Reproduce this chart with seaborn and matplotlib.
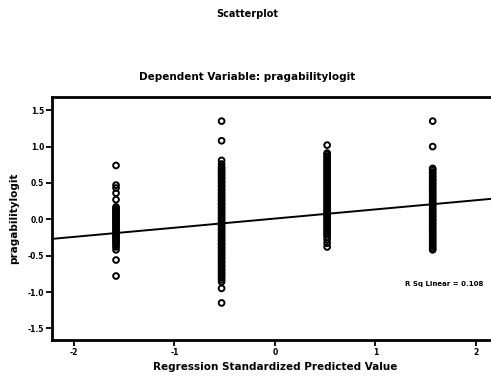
import matplotlib
matplotlib.use("Agg")
import matplotlib.pyplot as plt
import seaborn as sns
import pandas as pd

# ---- data ----
col_x = [-1.58, -0.53, 0.52, 1.57]

col1_y = [0.74, 0.47, 0.43, 0.36, 0.27,
          0.17, 0.15, 0.13, 0.11, 0.09, 0.07, 0.05, 0.03, 0.01, -0.01, -0.03,
          -0.05, -0.07, -0.09, -0.11, -0.13, -0.15, -0.17, -0.19, -0.21, -0.23,
          -0.25, -0.27, -0.29, -0.31, -0.33, -0.36, -0.38, -0.42, -0.56, -0.78]

col2_y = [1.35, 1.08, 0.81, 0.76,
          0.72, 0.70, 0.67, 0.65, 0.62, 0.60, 0.57, 0.55, 0.52, 0.50, 0.47,
          0.45, 0.42, 0.40, 0.37, 0.35, 0.32, 0.30, 0.27, 0.25, 0.22, 0.20,
          0.17, 0.15, 0.12, 0.10, 0.07, 0.05, 0.02, 0.00, -0.03, -0.05, -0.08,
          -0.10, -0.13, -0.15, -0.18, -0.20, -0.23, -0.25, -0.28, -0.30, -0.33,
          -0.35, -0.38, -0.40, -0.43, -0.45, -0.48, -0.50, -0.53, -0.55, -0.58,
          -0.60, -0.63, -0.65, -0.68, -0.70, -0.73, -0.75, -0.78, -0.80, -0.83,
          -0.86, -0.95, -1.15]

col3_y = [1.02, 0.91, 0.89, 0.86, 0.84, 0.81, 0.79, 0.76, 0.74, 0.71, 0.69,
          0.66, 0.64, 0.61, 0.59, 0.56, 0.54, 0.51, 0.49, 0.46, 0.44, 0.41,
          0.39, 0.36, 0.34, 0.31, 0.29, 0.26, 0.24, 0.21, 0.19, 0.16, 0.14,
          0.11, 0.09, 0.06, 0.04, 0.01, -0.01, -0.04, -0.06, -0.09, -0.11,
          -0.14, -0.16, -0.19, -0.21, -0.24, -0.28, -0.33, -0.38]

col4_y = [1.35, 1.00, 0.70, 0.68, 0.65, 0.63, 0.60, 0.58, 0.55, 0.53, 0.50,
          0.48, 0.45, 0.43, 0.40, 0.38, 0.35, 0.33, 0.30, 0.28, 0.25, 0.23,
          0.20, 0.18, 0.15, 0.13, 0.10, 0.08, 0.05, 0.03, 0.00, -0.02, -0.05,
          -0.07, -0.10, -0.12, -0.15, -0.17, -0.20, -0.22, -0.25, -0.27, -0.30,
          -0.32, -0.35, -0.37, -0.40, -0.42]

fit_intercept = 0.01
fit_slope = 0.126
r_sq = 0.108

x_ticks = [-2, -1, 0, 1, 2]
x_tick_labels = ["-2", "-1", "0", "1", "2"]
y_ticks = [1.5, 1.0, 0.5, 0.0, -0.5, -1.0, -1.5]
y_tick_labels = ["1.5", "1.0", "0.5", "0.0", "-0.5", "-1.0", "-1.5"]

# ---- build table ----
xs, ys = [], []
for cx, cy in zip(col_x, [col1_y, col2_y, col3_y, col4_y]):
    xs += [cx] * len(cy)
    ys += cy
df = pd.DataFrame({"pred": xs, "logit": ys})

sns.set_style("white")
plt.rcParams["font.family"] = ["DejaVu Sans"]
plt.rcParams["text.color"] = "black"
plt.rcParams["axes.labelcolor"] = "black"
plt.rcParams["xtick.color"] = "black"
plt.rcParams["ytick.color"] = "black"

fig = plt.figure(figsize=(4.91, 3.76), dpi=100)
ax = fig.add_axes([0.1053, 0.0957, 0.909, 0.646])

sns.scatterplot(data=df, x="pred", y="logit", ax=ax, marker="o",
                facecolor="none", edgecolor="black", s=17, linewidth=1.4,
                legend=False)
ax.axline((0, fit_intercept), slope=fit_slope, color="black", lw=1.4)

ax.set_xlim(-2.22, 2.22)
ax.set_ylim(-1.66, 1.68)
ax.set_xticks(x_ticks)
ax.set_xticklabels(x_tick_labels, fontsize=5.5, fontweight="bold")
ax.set_yticks(y_ticks)
ax.set_yticklabels(y_tick_labels, fontsize=5.5, fontweight="bold")
ax.tick_params(axis="both", direction="out", length=4, width=1.3,
               color="black", pad=1.5, left=True, bottom=True)
for side in ["left", "top", "bottom", "right"]:
    ax.spines[side].set_color("black")
    ax.spines[side].set_linewidth(2)

ax.set_xlabel("Regression Standardized Predicted Value", fontsize=7.5,
              fontweight="bold", labelpad=4)
ax.set_ylabel("pragabilitylogit", fontsize=7.5, fontweight="bold", labelpad=6)

ax.text(0.88, 0.23, f"R Sq Linear = {r_sq:.3f}", transform=ax.transAxes,
        fontsize=5, fontweight="bold", ha="center", va="center")

fig.text(0.503, 0.963, "Scatterplot", fontsize=7, fontweight="bold",
         ha="center", va="center")
fig.text(0.503, 0.795, "Dependent Variable: pragabilitylogit", fontsize=7.5,
         fontweight="bold", ha="center", va="center")

fig.savefig("out.png", dpi=100)
